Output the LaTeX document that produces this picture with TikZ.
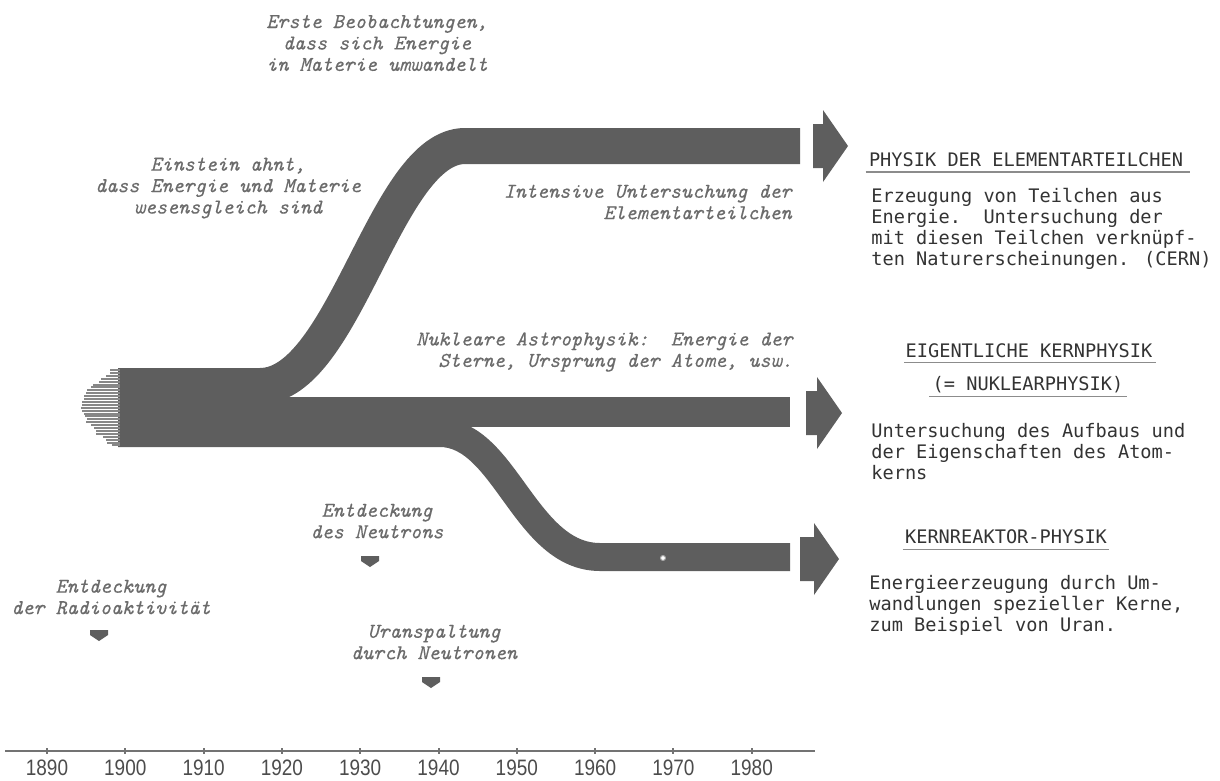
\documentclass[tikz,border=0pt]{standalone}
\usepackage{fontspec}
\newfontfamily\boxfont{DejaVu Sans Mono}
\newfontfamily\yearfont[FakeStretch=0.85]{Liberation Sans}
\newfontfamily\notefont[FakeBold=0.4]{lmmono10-italic.otf}
\colorlet{band_gray}{black!63}
\colorlet{note_gray}{black!58}
\colorlet{text_gray}{black!80}
\colorlet{rule_gray}{black!45}

\tikzset{
  band/.style={draw=band_gray, line cap=butt, line join=round},
  note/.style={text=note_gray, font=\notefont\fontsize{12}{12.2}\selectfont, inner sep=0pt},
  headline/.style={text=text_gray, font=\boxfont\fontsize{10.6}{12}\selectfont, inner sep=0pt, anchor=base},
  bodytext/.style={text=text_gray, font=\boxfont\fontsize{10.6}{12}\selectfont, inner sep=0pt, align=left, anchor=north west},
  yearlabel/.style={text=black!70, font=\yearfont\fontsize{12.7}{13}\selectfont, inner sep=0pt},
  underline/.style={draw=rule_gray, line width=0.3mm},
}

\begin{document}
\begin{tikzpicture}[x=0.2mm, y=-0.2mm, line join=round]
\useasboundingbox (0,0) rectangle (1220,780);

% start and end points of the three bands
\coordinate (root_up) at (118,386);
\coordinate (root_mid) at (118,412);
\coordinate (root_low) at (118,433);
\coordinate (end_up) at (800,146);
\coordinate (end_mid) at (790,412);
\coordinate (end_low) at (790,557);

%-----------------------------------------------
%-----------------------------------------------
\draw[band, line width=7.2mm] (root_up) -- (260,386) .. controls (345,386) and (385,146) .. (465,146) -- (end_up);
\draw[band, line width=6mm] (root_mid) -- (end_mid);
\draw[band, line width=5.6mm] (root_low) -- (440,433) .. controls (505,433) and (525,557) .. (600,557) -- (end_low);

% frayed left end of the trunk
\pgfmathsetseed{7}
\foreach \k in {0,...,26}
{
  \pgfmathsetmacro\len{6+30*sin(180*\k/26)+5*rnd}
  \draw[band_gray!75, line width=0.4mm] (120,{370+2.9*\k}) -- ++(-\len,0);
}

\filldraw[fill=white, draw=black!35, line width=0.2mm] (663,558) circle (0.5mm);

%-----------------------------------------------
% big arrows at the band ends
\foreach \ax/\ay/\aw in {813/146/10, 806/413/11, 800/559/14}
{
  \fill[band_gray] (\ax,\ay) ++(0,-22) -- ++(\aw,0) -- ++(0,-14) -- ++(25,36) -- ++(-25,36) -- ++(0,-14) -- ++(-\aw,0) -- cycle;
}

% small markers under the events
\foreach \mx/\my in {99/630, 370/556, 431/677}
{
  \fill[band_gray] (\mx,\my) ++(-9,0) -- ++(18,0) -- ++(0,5) -- ++(-9,6) -- ++(-9,-6) -- cycle;
}

%-----------------------------------------------
% notes along the bands
\node[note, align=center] (first_obs) at (377,43) {Erste Beobachtungen,\\dass sich Energie\\in Materie umwandelt};
\node[note, align=center] (einstein) at (228,188) {Einstein ahnt,\\dass Energie und Materie\\wesensgleich sind};
\node[note, align=right, anchor=east] (intensive) at (792,202) {Intensive Untersuchung der\\Elementarteilchen};
\node[note, align=right, anchor=east] (astro) at (793,352) {Nukleare Astrophysik:\ \ Energie der\\Sterne, Ursprung der Atome, usw.};
\node[note, align=center] (neutron) at (377,521) {Entdeckung\\des Neutrons};
\node[note, align=center] (radio) at (111,597) {Entdeckung\\der Radioaktivität};
\node[note, align=center] (uran) at (434,642) {Uranspaltung\\durch Neutronen};

%-----------------------------------------------
% right column
\node[headline] (h_elem) at (1026,166) {PHYSIK DER ELEMENTARTEILCHEN};
\draw[underline] ([xshift=-0.6mm,yshift=-1.2mm]h_elem.base west) -- ([xshift=1.4mm,yshift=-1.2mm]h_elem.base east);
\node[bodytext] (b_elem) at (871,188) {Erzeugung von Teilchen aus\\Energie.\ \ Untersuchung der\\mit diesen Teilchen verknüpf-\\ten Naturerscheinungen. (CERN)};

\node[headline] (h_kern) at (1029,357) {EIGENTLICHE KERNPHYSIK};
\draw[underline] ([xshift=-0.2mm,yshift=-1.1mm]h_kern.base west) -- ([xshift=0.6mm,yshift=-1.1mm]h_kern.base east);
\node[headline] (h_nukl) at (1028,390) {(= NUKLEARPHYSIK)};
\draw[underline] ([xshift=-0.6mm,yshift=-1.3mm]h_nukl.base west) -- ([xshift=0.6mm,yshift=-1.3mm]h_nukl.base east);
\node[bodytext] (b_kern) at (871,423) {Untersuchung des Aufbaus und\\der Eigenschaften des Atom-\\kerns};

\node[headline] (h_reak) at (1006,543) {KERNREAKTOR-PHYSIK};
\draw[underline] ([xshift=-0.4mm,yshift=-1.3mm]h_reak.base west) -- ([xshift=0.4mm,yshift=-1.3mm]h_reak.base east);
\node[bodytext] (b_reak) at (869,575) {Energieerzeugung durch Um-\\wandlungen spezieller Kerne,\\zum Beispiel von Uran.};

%-----------------------------------------------
% time axis
\draw[black!55, line width=0.3mm] (5,751) -- (815,751);
\foreach \yr [count=\i from 0] in {1890,1900,...,1980}
{
  \draw[black!55, line width=0.4mm] ({47+78.3*\i},748) -- ++(0,6);
  \node[yearlabel] (yr\yr) at ({47+78.3*\i},768) {\yr};
}

\end{tikzpicture}
\end{document}
